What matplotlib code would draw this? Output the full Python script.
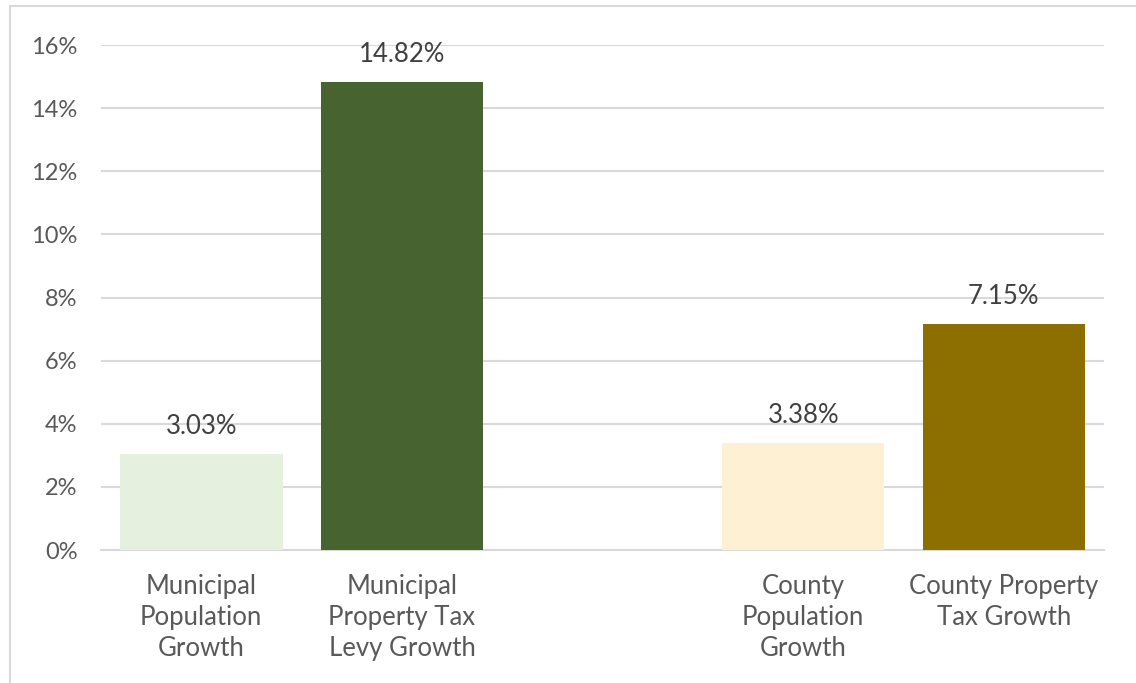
import matplotlib
matplotlib.use("Agg")
import matplotlib.pyplot as plt
from matplotlib.patches import Rectangle
from matplotlib.ticker import FuncFormatter, MultipleLocator

plt.rcParams['font.family'] = ['Lato', 'DejaVu Sans']

categories = [
    "Municipal\nPopulation\nGrowth",
    "Municipal\nProperty Tax\nLevy Growth",
    "County\nPopulation\nGrowth",
    "County Property\nTax Growth",
]
values = [3.03, 14.82, 3.38, 7.15]
positions = [0, 1, 3, 4]
colors = ["#E6F0DE", "#466330", "#FEF1D3", "#8D6E00"]

text_color = "#595959"
grid_color = "#D9D9D9"

fig = plt.figure(figsize=(11.36, 6.83), dpi=100)
ax = fig.add_axes([0.0889, 0.1947, 0.972 - 0.0889, 0.934 - 0.1947])

ax.bar(positions, values, width=0.81, color=colors, zorder=3)

for x, v in zip(positions, values):
    ax.annotate(f"{v:.2f}%", (x, v), xytext=(0, 11), textcoords="offset points",
                ha="center", va="bottom", fontsize=18.5, color="#404040")

ax.set_xlim(-0.5, 4.5)
ax.set_ylim(0, 16)
ax.yaxis.set_major_locator(MultipleLocator(2))
ax.yaxis.set_major_formatter(FuncFormatter(lambda y, _: f"{y:.0f}%"))
ax.grid(axis="y", color=grid_color, linewidth=1.5, zorder=0)
ax.set_axisbelow(True)

ax.set_xticks(positions)
ax.set_xticklabels(categories, fontsize=18.5, color=text_color, linespacing=1.3)
ax.tick_params(axis="x", length=0, pad=17)
ax.tick_params(axis="y", length=0, pad=17, labelsize=17, labelcolor=text_color)

for side in ("top", "right", "left"):
    ax.spines[side].set_visible(False)
ax.spines["bottom"].set_color(grid_color)
ax.spines["bottom"].set_linewidth(1.5)

fig.patches.append(Rectangle((9.5 / 1136, -0.01), 1.0, 1.01 - 5.5 / 683,
                             transform=fig.transFigure, fill=False,
                             edgecolor=grid_color, linewidth=1.5))

fig.savefig("out.png", dpi=100)
